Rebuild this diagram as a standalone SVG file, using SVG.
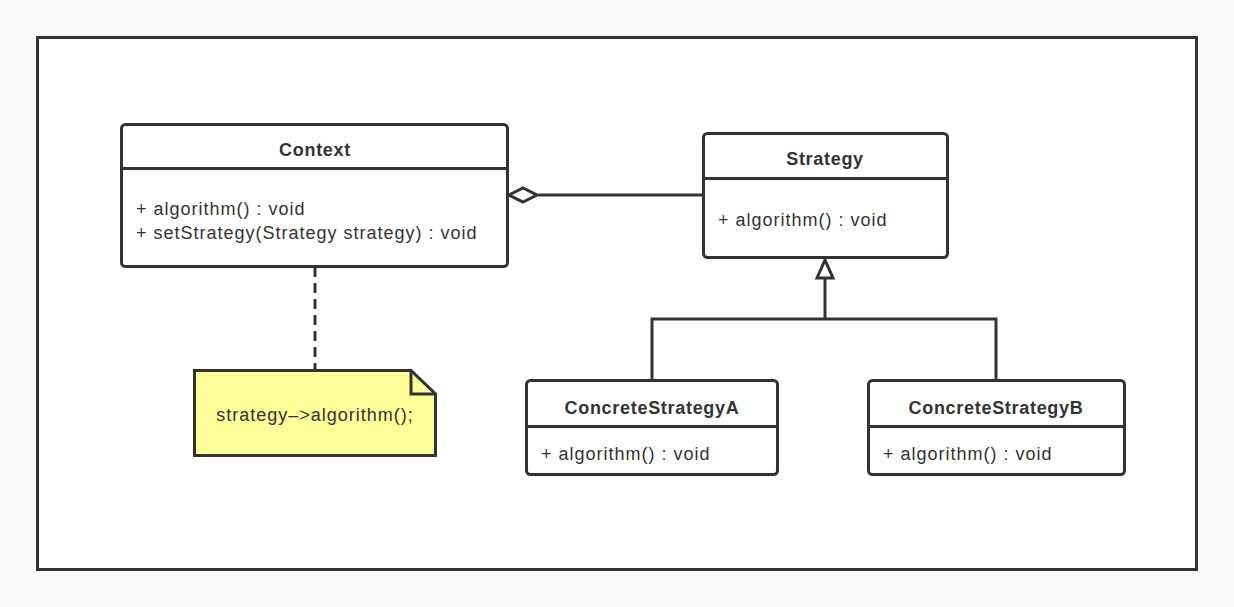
<svg xmlns="http://www.w3.org/2000/svg" width="1234" height="607" viewBox="0 0 1234 607">
<style>
.box{fill:#fff;stroke:#333;stroke-width:3}
.ln{fill:none;stroke:#333;stroke-width:3}
.t{font-family:"Liberation Sans",Arial,sans-serif;font-size:18px;letter-spacing:1px;fill:#333}
.b{font-weight:bold;letter-spacing:0.7px;text-anchor:middle}
</style>
<rect x="0" y="0" width="1234" height="607" fill="#fafafa"/>
<rect x="37.5" y="37.5" width="1159" height="532" fill="#fff" stroke="#333" stroke-width="3"/>
<g id="connectors">
<path class="ln" d="M538 195 H703"/>
<path d="M509 195 L523 188 L537 195 L523 202 Z" fill="#fff" stroke="#333" stroke-width="3"/>
<path class="ln" d="M315 267 V370" stroke-dasharray="10,6"/>
<path class="ln" d="M825 278 V319 M652 380 V319 H996 V380"/>
<path d="M825 260 L817 278 H833 Z" fill="#fff" stroke="#333" stroke-width="3"/>
</g>
<g id="context">
<rect class="box" x="121.5" y="124.5" width="386" height="142" rx="4"/>
<path class="ln" d="M121.5 168.5 H507.5"/>
<text class="t b" x="315" y="156">Context</text>
<text class="t" x="136" y="215">+ algorithm() : void</text>
<text class="t" x="136" y="239">+ setStrategy(Strategy strategy) : void</text>
</g>
<g id="strategy">
<rect class="box" x="703.5" y="133.5" width="244" height="124" rx="4"/>
<path class="ln" d="M703.5 178.5 H947.5"/>
<text class="t b" x="825" y="165">Strategy</text>
<text class="t" x="718" y="226">+ algorithm() : void</text>
</g>
<g id="concreteA">
<rect class="box" x="526.5" y="380.5" width="251" height="94" rx="4"/>
<path class="ln" d="M526.5 426.5 H777.5"/>
<text class="t b" x="652" y="414">ConcreteStrategyA</text>
<text class="t" x="541" y="460">+ algorithm() : void</text>
</g>
<g id="concreteB">
<rect class="box" x="868.5" y="380.5" width="256" height="94" rx="4"/>
<path class="ln" d="M868.5 426.5 H1124.5"/>
<text class="t b" x="996" y="414">ConcreteStrategyB</text>
<text class="t" x="883" y="460">+ algorithm() : void</text>
</g>
<g id="note">
<path d="M194.5 370.5 H411 L435.5 394 V455.5 H194.5 Z" fill="#ffff99" stroke="#333" stroke-width="3"/>
<path d="M411 370.5 V394 H435.5" fill="none" stroke="#333" stroke-width="3"/>
<text class="t" x="315" y="421" text-anchor="middle">strategy–&gt;algorithm();</text>
</g>
</svg>
